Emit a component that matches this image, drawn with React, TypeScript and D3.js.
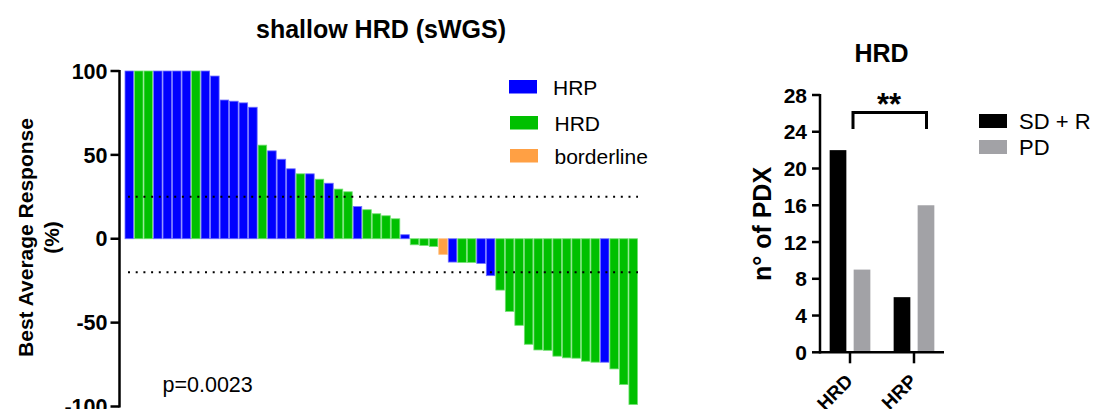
import React from "react";
import * as d3 from "d3";

// ---- Waterfall data (left panel) ----
const responses = [
  100, 100, 100, 100, 100, 100, 100, 100, 100, 97, 82.7, 82, 81, 78.4, 55.8, 52.4, 47.4, 41.7,
  38.7, 38.7, 35.5, 33.1, 29.6, 28, 19.2, 17.3, 14.9, 13.7, 11.9, 2.4, -3.6, -4, -4.6, -9.3,
  -13.9, -14.1, -14.1, -14.7, -22, -30.6, -43.3, -51.6, -62.9, -66.3, -66.5, -70, -71, -71.2,
  -73, -73.6, -73.6, -77.6, -86.9, -98.8,
];
const groups = [
  "HRP", "HRD", "HRD", "HRP", "HRP", "HRP", "HRP", "HRD", "HRP",
  "HRP", "HRP", "HRP", "HRP", "HRP",
  "HRD", "HRP", "HRP", "HRP", "HRD", "HRP",
  "HRD", "HRP", "HRD", "HRD", "HRP", "HRD", "HRD", "HRD", "HRD", "HRP",
  "HRD", "HRD", "HRD", "borderline", "HRP", "HRD", "HRD", "HRP", "HRP",
  "HRD", "HRD", "HRD", "HRD", "HRD", "HRD", "HRD", "HRD", "HRD", "HRD", "HRD",
  "HRP", "HRD", "HRD", "HRD",
];
const legendGroups = ["HRP", "HRD", "borderline"];
const groupColors = ["#0000ff", "#00c000", "#ffa044"];
const groupEdges = ["#7070ff", "#70e070", "#ffc080"];
const leftTicks = [100, 50, 0, -50, -100];
const thresholds = [25, -20];
const pValue = "p=0.0023";

// ---- Grouped bar data (right panel) ----
const categories = ["HRD", "HRP"];
const seriesNames = ["SD + R", "PD"];
const sdR = [22, 6];
const pd = [9, 16];
const seriesColors = ["#000000", "#a2a2a6"];
const rightTicks = [0, 4, 8, 12, 16, 20, 24, 28];

const FONT = "'Liberation Sans', Arial, Helvetica, sans-serif";

export default function App() {
  // left scales
  const y = d3.scaleLinear().domain([-100, 100]).range([406.5, 71]);
  const x = d3
    .scaleBand<number>()
    .domain(responses.map((_, i) => i))
    .range([125, 637.5])
    .paddingInner(0.1)
    .paddingOuter(0);
  const color = d3.scaleOrdinal<string, string>().domain(legendGroups).range(groupColors);
  const edge = d3.scaleOrdinal<string, string>().domain(legendGroups).range(groupEdges);
  const axisX = 119.5;

  // right scales
  const y2 = d3.scaleLinear().domain([0, 28]).range([352.3, 95]);
  const x2 = d3
    .scaleBand<string>()
    .domain(categories)
    .range([820, 944])
    .paddingInner(0.364)
    .paddingOuter(0.151);
  const inner = d3
    .scaleBand<string>()
    .domain(seriesNames)
    .range([0, x2.bandwidth()])
    .paddingInner(0.304)
    .paddingOuter(0);
  const seriesVals = [sdR, pd];
  const axis2X = 820;

  return (
    <svg
      width={1094}
      height={409}
      style={{ position: "absolute", left: 0, top: 0, background: "#fff" }}
      fontFamily={FONT}
    >
      {/* ---------- LEFT PANEL ---------- */}
      <text x={381} y={38} textAnchor="middle" fontSize={25} fontWeight="bold">
        shallow HRD (sWGS)
      </text>

      {responses.map((v, i) => {
        const g = groups[i];
        const y0 = y(0);
        const yv = y(v);
        return (
          <rect
            key={i}
            x={x(i)!}
            y={Math.min(y0, yv)}
            width={x.bandwidth()}
            height={Math.abs(yv - y0)}
            fill={color(g)}
            stroke={edge(g)}
            strokeWidth={0.8}
          />
        );
      })}

      {thresholds.map((t) => (
        <line
          key={t}
          x1={128}
          x2={638}
          y1={y(t)}
          y2={y(t)}
          stroke="#000"
          strokeWidth={2}
          strokeDasharray="2 5.7"
        />
      ))}

      {/* y axis */}
      <line x1={axisX} x2={axisX} y1={y(100) - 1} y2={y(-100) + 1} stroke="#000" strokeWidth={2.5} />
      {leftTicks.map((t) => (
        <g key={t}>
          <line x1={axisX - 9} x2={axisX} y1={y(t)} y2={y(t)} stroke="#000" strokeWidth={2.5} />
          <text
            x={axisX - 12}
            y={y(t)}
            dy="0.36em"
            textAnchor="end"
            fontSize={21.5}
            fontWeight="bold"
          >
            {t}
          </text>
        </g>
      ))}
      <text
        transform={`translate(32.5,${237.5}) rotate(-90)`}
        textAnchor="middle"
        fontSize={21}
        fontWeight="bold"
      >
        Best Average Response
      </text>
      <text
        transform={`translate(58.5,${237.5}) rotate(-90)`}
        textAnchor="middle"
        fontSize={21}
        fontWeight="bold"
      >
        (%)
      </text>

      {/* legend */}
      {legendGroups.map((g, i) => {
        const ys = [80, 116, 149];
        return (
          <g key={g}>
            <rect x={509 + (i > 0 ? 1 : 0)} y={ys[i]} width={28} height={13.5} fill={color(g)} />
            <text x={553 + (i > 0 ? 1.5 : 0)} y={ys[i] + 14.5} fontSize={21}>
              {g}
            </text>
          </g>
        );
      })}

      <text x={162.5} y={391.5} fontSize={21.5}>
        {pValue}
      </text>

      {/* ---------- RIGHT PANEL ---------- */}
      <text x={881.5} y={62} textAnchor="middle" fontSize={25} fontWeight="bold">
        HRD
      </text>

      {categories.map((c, ci) =>
        seriesNames.map((s, si) => {
          const v = seriesVals[si][ci];
          return (
            <rect
              key={c + s}
              x={x2(c)! + inner(s)!}
              y={y2(v)}
              width={inner.bandwidth()}
              height={y2(0) - y2(v)}
              fill={seriesColors[si]}
            />
          );
        })
      )}

      {/* y axis */}
      <line x1={axis2X} x2={axis2X} y1={y2(28) - 1} y2={y2(0) + 1.2} stroke="#000" strokeWidth={2.5} />
      {rightTicks.map((t) => (
        <g key={t}>
          <line x1={axis2X - 8} x2={axis2X} y1={y2(t)} y2={y2(t)} stroke="#000" strokeWidth={2.5} />
          <text x={axis2X - 13} y={y2(t)} dy="0.36em" textAnchor="end" fontSize={21} fontWeight="bold">
            {t}
          </text>
        </g>
      ))}
      {/* x axis */}
      <line x1={axis2X} x2={944} y1={y2(0)} y2={y2(0)} stroke="#000" strokeWidth={2.5} />
      {categories.map((c) => {
        const cx = x2(c)! + x2.bandwidth() / 2;
        return (
          <g key={c}>
            <line x1={cx} x2={cx} y1={y2(0)} y2={y2(0) + 11} stroke="#000" strokeWidth={2.5} />
            <text
              transform={`translate(${cx + 4},${y2(0) + 30}) rotate(-45)`}
              textAnchor="end"
              fontSize={19}
              fontWeight="bold"
            >
              {c}
            </text>
          </g>
        );
      })}
      <text
        transform={`translate(771,224) rotate(-90)`}
        textAnchor="middle"
        fontSize={25}
        fontWeight="bold"
      >
        n° of PDX
      </text>

      {/* significance bracket */}
      <path d="M853,129 V112.5 H926.5 V129" fill="none" stroke="#000" strokeWidth={3} />
      <text x={889} y={115} textAnchor="middle" fontSize={31} fontWeight="bold">
        **
      </text>

      {/* legend */}
      {seriesNames.map((s, i) => {
        const ys = [114, 140];
        return (
          <g key={s}>
            <rect x={979} y={ys[i]} width={28} height={14} fill={seriesColors[i]} />
            <text x={1019} y={ys[i] + 14.5} fontSize={22}>
              {s}
            </text>
          </g>
        );
      })}
    </svg>
  );
}
